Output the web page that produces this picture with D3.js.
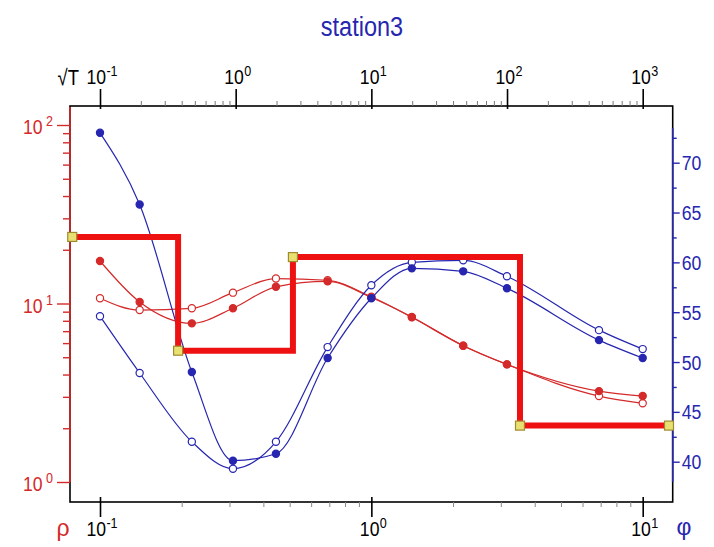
<!DOCTYPE html>
<html><head><meta charset="utf-8">
<script src="https://cdn.jsdelivr.net/npm/d3@7"></script>
<style>
html,body{margin:0;padding:0;background:#fff;}
svg{display:block;}
text{font-family:"Liberation Sans",Arial,sans-serif;}
</style></head>
<body>
<svg id="c" width="714" height="547"></svg>
<script>
// ---- data ----
const periods = [0.1, 0.14, 0.218, 0.309, 0.445, 0.69, 1.0, 1.41, 2.18, 3.16, 6.9, 10];
const rhoFilled = [17.3, 10.2, 7.74, 9.4, 12.4, 13.3, 10.8, 8.4, 5.8, 4.56, 3.23, 3.03];
const rhoOpen   = [10.7, 9.19, 9.4, 11.5, 13.8, 13.5, 10.9, 8.37, 5.8, 4.56, 3.03, 2.76];
const phiFilled = [73.0, 65.8, 49.0, 40.1, 40.8, 50.4, 56.4, 59.4, 59.1, 57.4, 52.2, 50.4];
const phiOpen   = [54.6, 48.9, 42.0, 39.3, 42.0, 51.5, 57.7, 60.0, 60.2, 58.6, 53.2, 51.3];
const modelX    = [0.079, 0.194, 0.514, 3.53, 12.5];
const modelRho  = [23.6, 5.44, 18.2, 2.07, 2.07];
const topTicks    = [0.1, 1, 10, 100, 1000];
const topExps     = ["-1", "0", "1", "2", "3"];
const bottomTicks = [0.1, 1, 10];
const bottomExps  = ["-1", "0", "1"];
const rhoTicks    = [1, 10, 100];
const rhoExps     = ["0", "1", "2"];
const phiTicks    = [40, 45, 50, 55, 60, 65, 70];
const title = "station3";

// ---- layout ----
const L = 70, R = 672.7, T = 106, B = 502;
const RED = "#d42a2a", BLUE = "#2626b0", THICK = "#ee1111";
const SX = 0.84; // condensed look of the labels
const svg = d3.select("#c");

const xB = d3.scaleLog().domain([0.1, 10]).range([100, 642.7]);
const xT = d3.scaleLog().domain([0.1, 1000]).range([100, 642.7]);
const yR = d3.scaleLog().domain([1, 100]).range([482, 125]);
const yP = d3.scaleLinear().domain([40, 70]).range([461.7, 162.7]);

function minors(lo, hi) {
  const out = [];
  for (let d = lo; d < hi; d *= 10) for (let k = 2; k <= 9; k++) out.push(d * k);
  return out;
}

// frame
svg.append("rect").attr("x", L).attr("y", T).attr("width", R - L).attr("height", B - T)
  .attr("fill", "none").attr("stroke", "#000").attr("stroke-width", 1.6);

// top axis (sqrt T)
svg.append("g").attr("transform", `translate(0,${T})`)
  .call(d3.axisTop(xT).tickValues(minors(0.1, 1000)).tickSize(5).tickFormat(""))
  .call(g => g.select(".domain").remove())
  .call(g => g.selectAll("line").attr("stroke", "#777"));
svg.append("g").attr("transform", `translate(0,${T + 3})`)
  .call(d3.axisTop(xT).tickValues(topTicks).tickSize(20).tickFormat(""))
  .call(g => g.select(".domain").remove())
  .call(g => g.selectAll("line").attr("stroke", "#000").attr("stroke-width", 1.6));

// bottom axis
svg.append("g").attr("transform", `translate(0,${B})`)
  .call(d3.axisBottom(xB).tickValues(minors(0.1, 10)).tickSize(5).tickFormat(""))
  .call(g => g.select(".domain").remove())
  .call(g => g.selectAll("line").attr("stroke", "#888"));
svg.append("g").attr("transform", `translate(0,${B - 5})`)
  .call(d3.axisBottom(xB).tickValues(bottomTicks).tickSize(20).tickFormat(""))
  .call(g => g.select(".domain").remove())
  .call(g => g.selectAll("line").attr("stroke", "#000").attr("stroke-width", 1.6));

// left rho axis
svg.append("line").attr("x1", L).attr("x2", L).attr("y1", T + 1).attr("y2", yR(1))
  .attr("stroke", RED).attr("stroke-width", 1.6);
svg.append("g").attr("transform", `translate(${L},0)`)
  .call(d3.axisLeft(yR).tickValues(minors(1, 100)).tickSize(7).tickFormat(""))
  .call(g => g.select(".domain").remove())
  .call(g => g.selectAll("line").attr("stroke", RED).attr("stroke-width", 1.4));
svg.append("g").attr("transform", `translate(${L},0)`)
  .call(d3.axisLeft(yR).tickValues(rhoTicks).tickSize(13).tickFormat(""))
  .call(g => g.select(".domain").remove())
  .call(g => g.selectAll("line").attr("stroke", RED).attr("stroke-width", 1.4));

// right phi axis
svg.append("line").attr("x1", R).attr("x2", R).attr("y1", 128).attr("y2", 482)
  .attr("stroke", BLUE).attr("stroke-width", 1.6);
svg.append("g").attr("transform", `translate(${R},0)`)
  .call(d3.axisRight(yP).tickValues(d3.range(42.5, 75, 5)).tickSize(4).tickFormat(""))
  .call(g => g.select(".domain").remove())
  .call(g => g.selectAll("line").attr("stroke", BLUE).attr("stroke-width", 1.4));
svg.append("g").attr("transform", `translate(${R},0)`)
  .call(d3.axisRight(yP).tickValues(phiTicks).tickSize(7).tickFormat(""))
  .call(g => g.select(".domain").remove())
  .call(g => g.selectAll("line").attr("stroke", BLUE).attr("stroke-width", 1.4));

// condensed label helpers
function label(g, x, y, anchor, color, size) {
  return g.append("g").attr("transform", `translate(${x},${y}) scale(${SX},1)`)
    .append("text").attr("text-anchor", anchor).attr("fill", color).attr("font-size", size);
}
function pow10(g, x, y, exp, anchor, color) {
  const t = label(g, x, y, anchor, color, 21);
  t.append("tspan").text("10");
  t.append("tspan").attr("dy", -8).attr("dx", anchor === "end" ? 4 : 0.5).attr("font-size", 15).text(exp);
}
const lab = svg.append("g");
topTicks.forEach((v, i) => pow10(lab, xT(v) + 2, 84, topExps[i], "middle", "#000"));
bottomTicks.forEach((v, i) => pow10(lab, xB(v) + 2, 536, bottomExps[i], "middle", "#000"));
rhoTicks.forEach((v, i) => pow10(lab, 53, yR(v) + 9, rhoExps[i], "end", RED));
phiTicks.forEach(v => label(lab, R + 9, yP(v) + 7.5, "start", BLUE, 21).text(v));

label(lab, 79, 85, "end", "#000", 22).text("√T");
lab.append("text").attr("x", 63).attr("y", 536).attr("text-anchor", "middle").attr("font-size", 23)
  .attr("fill", RED).text("ρ");
lab.append("text").attr("x", 684).attr("y", 535).attr("text-anchor", "middle").attr("font-size", 23)
  .attr("fill", BLUE).text("φ");
label(lab, 362, 36, "middle", BLUE, 28).text(title);

// data curves
const plot = svg.append("g");
const lineGen = d3.line().curve(d3.curveMonotoneX);
function series(vals, yScale, color, filled) {
  const pts = periods.map((p, i) => [xB(p), yScale(vals[i])]);
  plot.append("path").attr("d", lineGen(pts)).attr("fill", "none")
    .attr("stroke", color).attr("stroke-width", 1.2);
  plot.selectAll(null).data(pts).enter().append("circle")
    .attr("cx", d => d[0]).attr("cy", d => d[1]).attr("r", 3.6)
    .attr("fill", filled ? color : "#fff").attr("stroke", color).attr("stroke-width", 1.2);
}
series(rhoOpen, yR, RED, false);
series(rhoFilled, yR, RED, true);
series(phiOpen, yP, BLUE, false);
series(phiFilled, yP, BLUE, true);

// model (thick step)
const mpts = modelX.map((x, i) => [xB(x), yR(modelRho[i])]);
plot.append("path").attr("d", d3.line().curve(d3.curveStepAfter)(mpts))
  .attr("fill", "none").attr("stroke", THICK).attr("stroke-width", 6);
plot.selectAll(null).data(mpts).enter().append("rect")
  .attr("x", d => d[0] - 4.5).attr("y", d => d[1] - 4.5).attr("width", 9).attr("height", 9)
  .attr("fill", "#e8e070").attr("stroke", "#a08a30").attr("stroke-width", 1.2);
</script>
</body></html>
